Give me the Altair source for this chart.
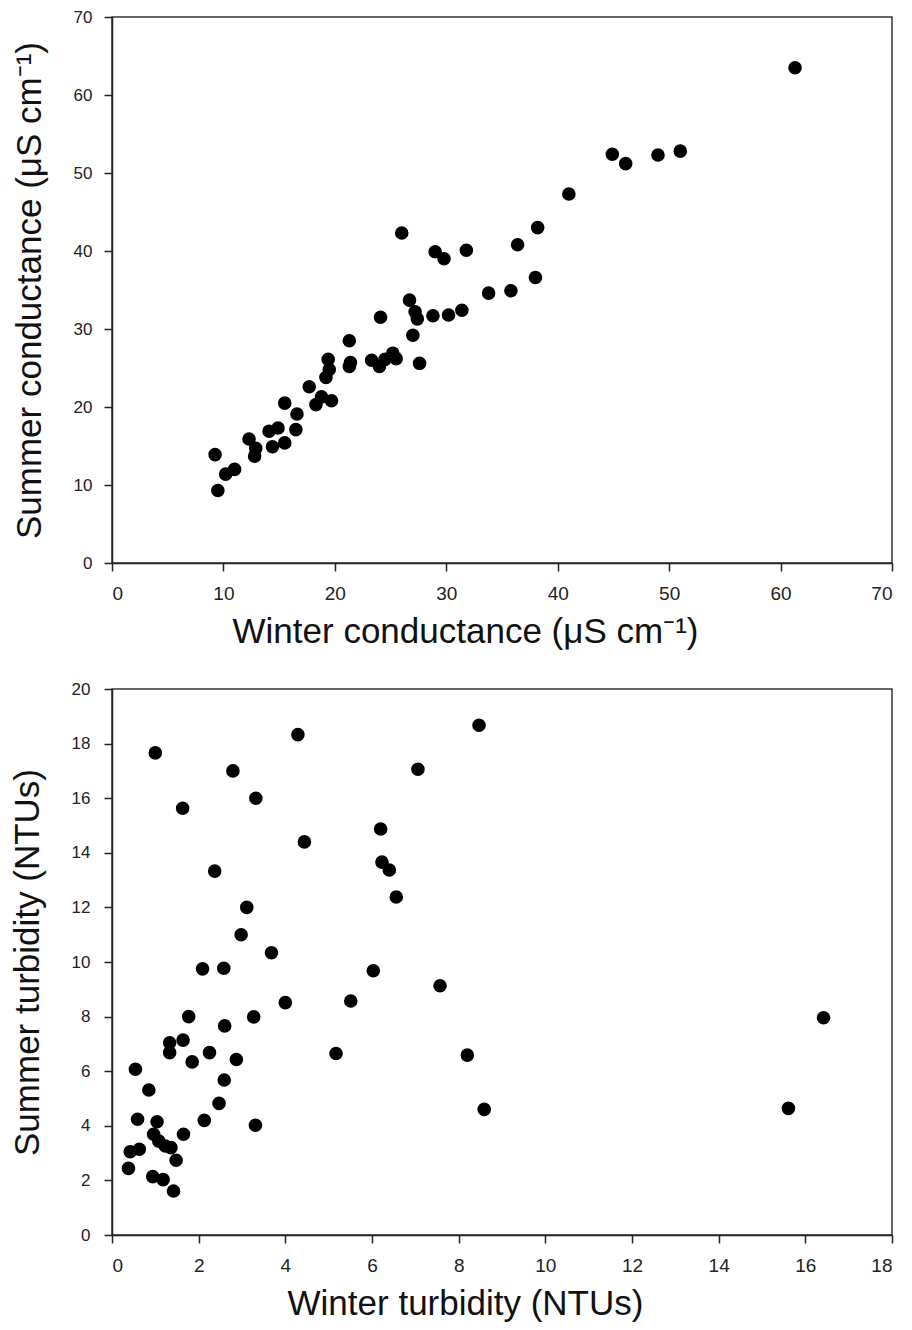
import altair as alt
import pandas as pd

# Top panel: conductance (µS cm-1)
winter_cond = [9.25, 9.5, 10.2, 11.0, 12.3, 12.9, 12.8, 14.1, 14.4, 14.9,
               15.5, 15.5, 16.6, 16.5, 17.7, 18.8, 18.3, 19.7, 19.2, 19.5,
               19.4, 21.3, 21.3, 21.4, 23.3, 24.0, 24.5, 25.2, 25.5, 24.1,
               26.0, 26.7, 27.2, 27.4, 27.0, 27.6, 28.8, 29.0, 29.8, 30.2,
               31.4, 31.8, 33.8, 35.8, 36.4, 38.0, 38.2, 41.0, 44.9, 46.1,
               49.0, 51.0, 61.3]
summer_cond = [13.9, 9.3, 11.4, 12.0, 15.9, 14.7, 13.7, 16.9, 14.9, 17.3,
               15.4, 20.5, 19.1, 17.1, 22.6, 21.3, 20.3, 20.8, 23.8, 24.8,
               26.1, 28.5, 25.2, 25.7, 26.0, 25.2, 26.1, 26.9, 26.2, 31.5,
               42.3, 33.7, 32.2, 31.3, 29.2, 25.6, 31.7, 39.9, 39.0, 31.8,
               32.4, 40.1, 34.6, 34.9, 40.8, 36.6, 43.0, 47.3, 52.4, 51.2,
               52.3, 52.8, 63.5]

# Bottom panel: turbidity (NTUs)
winter_turb = [1.0, 2.79, 4.29, 1.63, 3.32, 8.47, 7.06, 6.2, 4.44, 6.23,
               6.40, 6.56, 2.37, 3.11, 2.98, 3.68, 2.09, 2.58, 6.03, 7.57,
               4.0, 5.51, 1.77, 3.27, 2.6, 1.64, 1.33, 1.33, 2.25, 1.85,
               2.87, 5.17, 8.2, 0.54, 0.85, 2.59, 2.47, 8.59, 0.59, 1.04,
               2.13, 3.31, 0.96, 1.65, 1.08, 1.23, 1.36, 0.42, 0.63, 1.48,
               0.38, 0.94, 1.18, 1.42, 15.61, 16.42]
summer_turb = [17.66, 17.0, 18.33, 15.63, 16.0, 18.67, 17.06, 14.87, 14.4, 13.66,
               13.37, 12.38, 13.33, 12.0, 11.0, 10.34, 9.75, 9.77, 9.68, 9.13,
               8.51, 8.57, 8.0, 7.99, 7.66, 7.14, 7.04, 6.68, 6.68, 6.34,
               6.43, 6.65, 6.59, 6.07, 5.31, 5.68, 4.82, 4.6, 4.24, 4.15,
               4.2, 4.02, 3.69, 3.69, 3.44, 3.26, 3.2, 3.05, 3.14, 2.74,
               2.44, 2.14, 2.03, 1.61, 4.64, 7.96]

cond_ticks = [0, 10, 20, 30, 40, 50, 60, 70]
turb_x_ticks = [0, 2, 4, 6, 8, 10, 12, 14, 16, 18]
turb_y_ticks = [0, 2, 4, 6, 8, 10, 12, 14, 16, 18, 20]

FONT = "Liberation Sans"
W, H = 780, 546
PT = 185


def xaxis(title, vals):
    return alt.Axis(title=title, values=vals, grid=False, tickSize=8,
                    labelFontSize=19, labelPadding=13, titlePadding=11,
                    titleFontSize=35, titleX=353, titleAlign="center")


def yaxis(title, vals, lp=12):
    return alt.Axis(title=title, values=vals, grid=False, tickSize=8,
                    labelFontSize=17, labelPadding=lp, titlePadding=26,
                    titleFontSize=35)


cond_df = pd.DataFrame({"w": winter_cond, "s": summer_cond})
turb_df = pd.DataFrame({"w": winter_turb, "s": summer_turb})

top = alt.Chart(cond_df).mark_circle(size=PT, color="black", opacity=1).encode(
    x=alt.X("w:Q", scale=alt.Scale(domain=[0, 70], nice=False),
            axis=xaxis("Winter conductance (μS cm⁻¹)", cond_ticks)),
    y=alt.Y("s:Q", scale=alt.Scale(domain=[0, 70], nice=False),
            axis=yaxis("Summer conductance (μS cm⁻¹)", cond_ticks)),
).properties(width=W, height=H)

bottom = alt.Chart(turb_df).mark_circle(size=PT, color="black", opacity=1).encode(
    x=alt.X("w:Q", scale=alt.Scale(domain=[0, 18], nice=False),
            axis=xaxis("Winter turbidity (NTUs)", turb_x_ticks)),
    y=alt.Y("s:Q", scale=alt.Scale(domain=[0, 20], nice=False),
            axis=yaxis("Summer turbidity (NTUs)", turb_y_ticks, lp=14)),
).properties(width=W, height=H)

chart = alt.vconcat(top, bottom, spacing=29).properties(
    padding={"left": 1, "top": -1, "right": 5, "bottom": 5}
).configure_view(
    stroke="#333", strokeWidth=1.5
).configure_axis(
    labelFont=FONT, titleFont=FONT, labelColor="#222", titleColor="#111",
    titleFontWeight="normal", domainColor="#222", domainWidth=1.5,
    tickColor="#222", tickWidth=1.5
)

chart.save("out.html", embed_options={"renderer": "svg", "actions": False})
